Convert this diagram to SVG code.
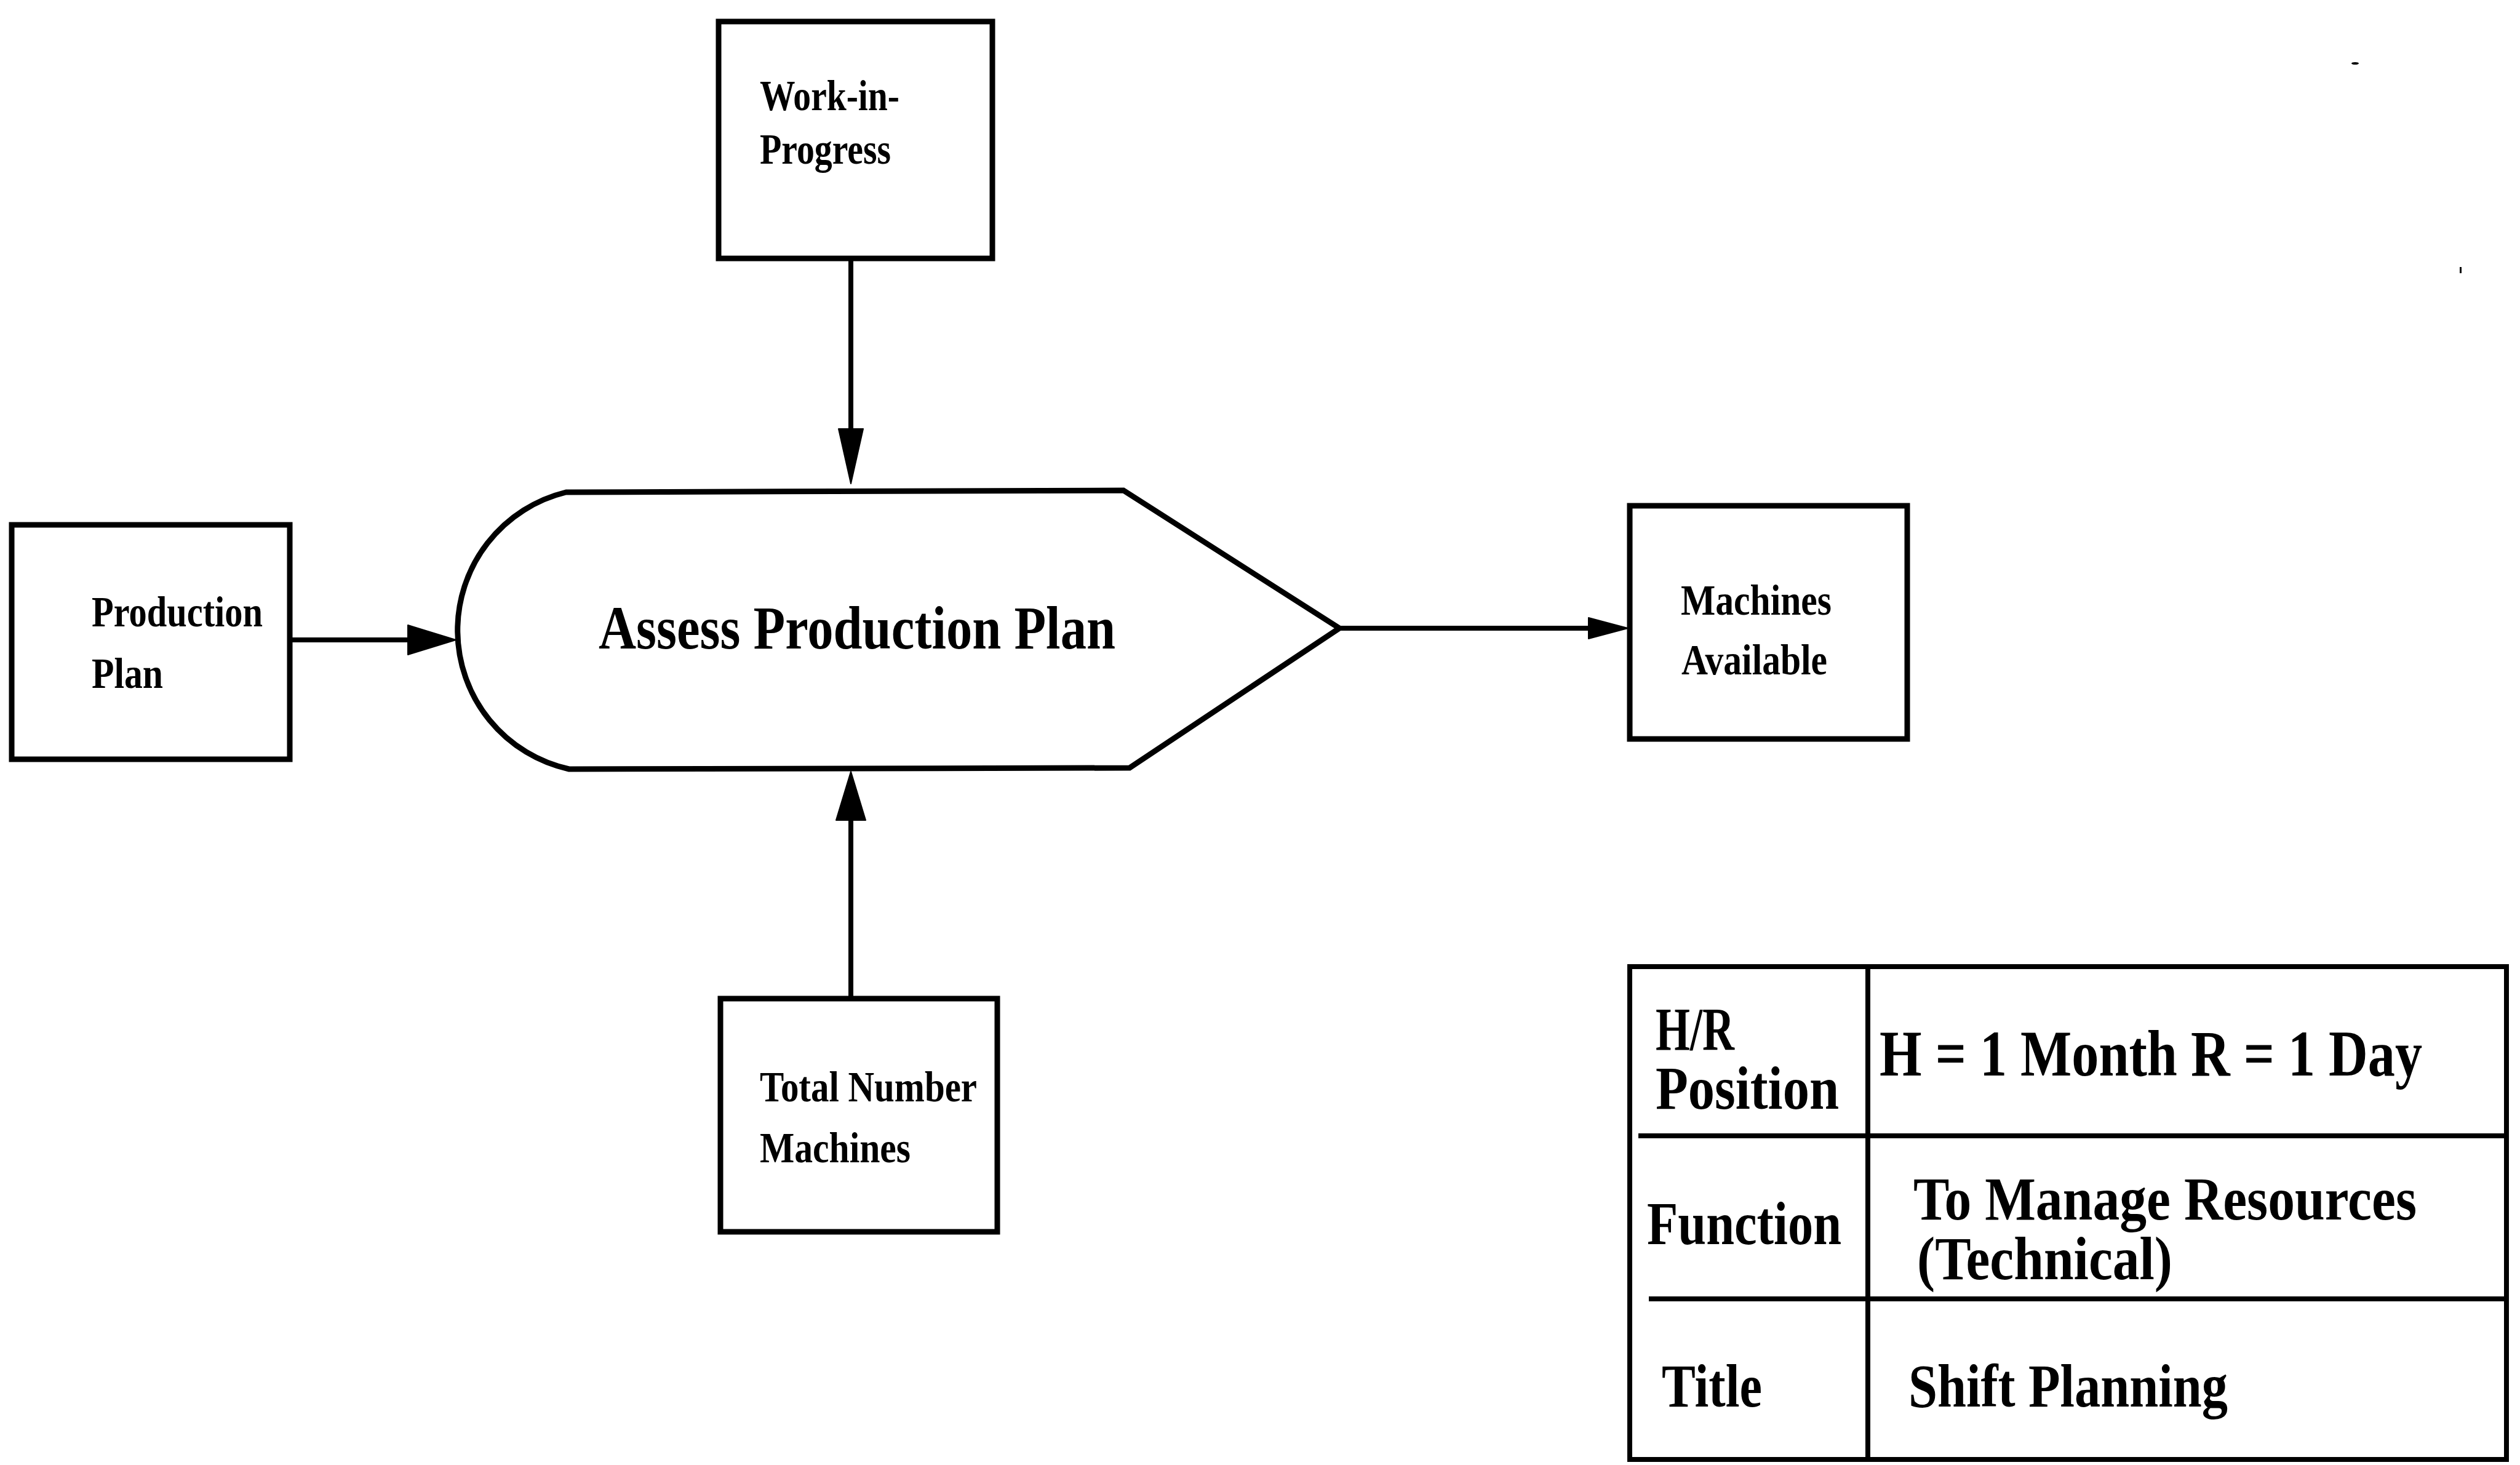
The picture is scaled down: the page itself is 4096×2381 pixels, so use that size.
<svg xmlns="http://www.w3.org/2000/svg" width="4096" height="2381" viewBox="0 0 4096 2381">
  <style>
    .box { fill: #fff; stroke: #000; stroke-width: 9; }
    .proc { fill: #fff; stroke: #000; stroke-width: 9; stroke-linejoin: miter; }
    .wire { fill: none; stroke: #000; stroke-width: 8; }
    .head { fill: #000; stroke: #000; stroke-width: 2; stroke-linejoin: round; }
    .grid { fill: none; stroke: #000; stroke-width: 8; }
    text { font-family: "Liberation Serif", "Times New Roman", serif; font-weight: bold; fill: #000; }
    .lbl { font-size: 70px; }
    .ttl { font-size: 100px; }
    .tbl { font-size: 100px; }
  </style>
  <rect width="4096" height="2381" fill="#fff"/>

  <!-- connectors -->
  <g id="connectors">
    <line class="wire" x1="471" y1="1040" x2="666" y2="1040"/>
    <polygon class="head" points="663,1016 741,1040 663,1064"/>

    <line class="wire" x1="1383" y1="420" x2="1383" y2="700"/>
    <polygon class="head" points="1363,697 1383,786 1403,697"/>

    <line class="wire" x1="1383" y1="1621" x2="1383" y2="1330"/>
    <polygon class="head" points="1359,1333 1383,1254 1407,1333"/>

    <line class="wire" x1="2177" y1="1021" x2="2585" y2="1021"/>
    <polygon class="head" points="2582,1004 2646,1021 2582,1038"/>
  </g>

  <!-- input: work in progress -->
  <g id="node-wip">
    <rect class="box" x="1168" y="35" width="445" height="385"/>
    <text class="lbl" x="1235" y="179" textLength="227" lengthAdjust="spacingAndGlyphs">Work-in-</text>
    <text class="lbl" x="1235" y="266" textLength="213" lengthAdjust="spacingAndGlyphs">Progress</text>
  </g>

  <!-- input: production plan -->
  <g id="node-production-plan">
    <rect class="box" x="19" y="853" width="452" height="381"/>
    <text class="lbl" x="149" y="1018" textLength="278" lengthAdjust="spacingAndGlyphs">Production</text>
    <text class="lbl" x="149" y="1118" textLength="116" lengthAdjust="spacingAndGlyphs">Plan</text>
  </g>

  <!-- process -->
  <g id="node-assess">
    <path class="proc" d="M 920 800 L 1826 797 L 2177 1021 L 1836 1248 L 925 1250 A 231 231 0 0 1 920 800 Z"/>
    <text class="ttl" x="973" y="1054" textLength="840" lengthAdjust="spacingAndGlyphs">Assess Production Plan</text>
  </g>

  <!-- output: machines available -->
  <g id="node-machines-available">
    <rect class="box" x="2649" y="822" width="451" height="379"/>
    <text class="lbl" x="2732" y="999" textLength="245" lengthAdjust="spacingAndGlyphs">Machines</text>
    <text class="lbl" x="2733" y="1096" textLength="237" lengthAdjust="spacingAndGlyphs">Available</text>
  </g>

  <!-- resource: total number machines -->
  <g id="node-total-machines">
    <rect class="box" x="1171" y="1623" width="450" height="379"/>
    <text class="lbl" x="1235" y="1790" textLength="353" lengthAdjust="spacingAndGlyphs">Total Number</text>
    <text class="lbl" x="1235" y="1889" textLength="245" lengthAdjust="spacingAndGlyphs">Machines</text>
  </g>

  <!-- title block -->
  <g id="title-block">
    <rect class="grid" x="2649" y="1571" width="1425" height="801"/>
    <line class="grid" x1="3036" y1="1571" x2="3036" y2="2372"/>
    <line class="grid" x1="2663" y1="1846" x2="4074" y2="1846"/>
    <line class="grid" x1="2680" y1="2111" x2="4074" y2="2111"/>
    <text class="tbl" x="2691" y="1706" textLength="128" lengthAdjust="spacingAndGlyphs">H/R</text>
    <text class="tbl" x="2691" y="1802" textLength="298" lengthAdjust="spacingAndGlyphs">Position</text>
    <text class="tbl" x="3055" y="1748" textLength="882" lengthAdjust="spacingAndGlyphs" style="font-size:106px">H = 1 Month R = 1 Day</text>
    <text class="tbl" x="2677" y="2022" textLength="316" lengthAdjust="spacingAndGlyphs">Function</text>
    <text class="tbl" x="3110" y="1982" textLength="818" lengthAdjust="spacingAndGlyphs">To Manage Resources</text>
    <text class="tbl" x="3116" y="2079" textLength="415" lengthAdjust="spacingAndGlyphs">(Technical)</text>
    <text class="tbl" x="2701" y="2286" textLength="163" lengthAdjust="spacingAndGlyphs">Title</text>
    <text class="tbl" x="3102" y="2286" textLength="519" lengthAdjust="spacingAndGlyphs">Shift Planning</text>
  </g>

  <!-- stray print marks -->
  <ellipse cx="3828" cy="103" rx="6" ry="2" fill="#000"/>
  <rect x="3998" y="434" width="3" height="10" fill="#000"/>
</svg>
